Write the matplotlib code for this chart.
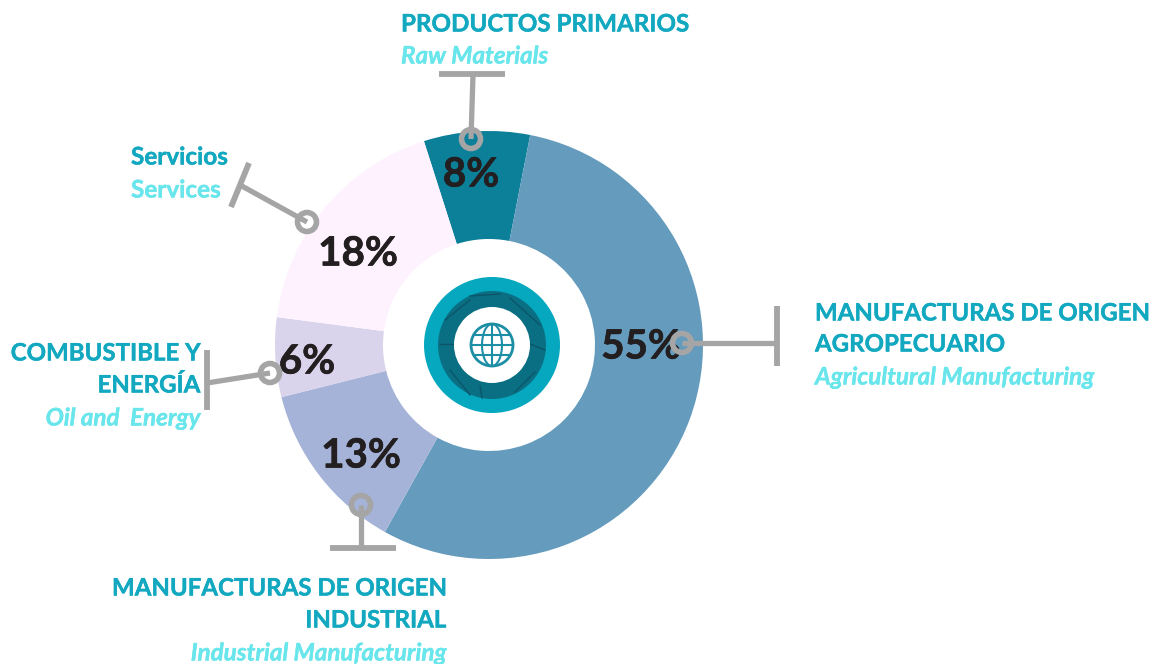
import numpy as np
import matplotlib
matplotlib.use('Agg')
import matplotlib.pyplot as plt
import matplotlib.patheffects as pe
from matplotlib.patches import Circle, Ellipse

W, H = 1169, 664

# datos del grafico
categorias = ['Productos primarios', 'MOA', 'MOI', 'Combustible', 'Servicios']
valores = [8, 55, 13, 6, 18]
etiquetas = ['8%', '55%', '13%', '6%', '18%']
colores = ['#0c7f99', '#659bbc', '#a6b3d8', '#d9d3ec', '#fef2fe']

plt.rcParams['font.family'] = ['Lato', 'Open Sans', 'DejaVu Sans']
GRIS = '#a5a5a5'
TEAL = '#12a8c0'
CLARO = '#68e6ec'
OSCURO = '#231f20'


def yy(p):
    return H - p


fig = plt.figure(figsize=(W / 100, H / 100), dpi=100)
ax = fig.add_axes([0, 0, 1, 1])

cx, cy, R = 489, 345, 214
ax.pie(valores, colors=colores, startangle=107.7, counterclock=False,
       center=(cx, yy(cy)), radius=R, wedgeprops=dict(width=R - 106, linewidth=0))
ax.set_xlim(0, W)
ax.set_ylim(0, H)
ax.set_aspect('equal')
ax.axis('off')

# porcentajes
pos_pct = [(471, 175), (641, 347), (361, 456), (307, 362), (358, 254)]
for t, (x, y) in zip(etiquetas, pos_pct):
    ax.text(x, yy(y), t, fontsize=29, fontweight='bold', color=OSCURO, ha='center', va='center',
            zorder=6, path_effects=[pe.withStroke(linewidth=0.5, foreground=OSCURO)])

# icono central
ix, iy = 492, 345
ax.add_patch(Circle((ix, yy(iy)), 68, fc='#05a8bf', ec='none', zorder=3))
ax.add_patch(Circle((ix, yy(iy)), 54, fc='#0b6f84', ec='none', zorder=3))
ax.add_patch(Circle((ix, yy(iy)), 38, fc='white', ec='none', zorder=4))
ax.add_patch(Circle((ix, yy(iy)), 21, fc='white', ec='#1c8ea5', lw=2, zorder=5))
ax.add_patch(Ellipse((ix, yy(iy)), 20, 42, fc='none', ec='#1c8ea5', lw=1.5, zorder=5))
for dy in [-10, 0, 10]:
    half = np.sqrt(21 ** 2 - dy ** 2)
    ax.plot([ix - half, ix + half], [yy(iy + dy)] * 2, color='#1c8ea5', lw=1.5, zorder=5)
ax.plot([ix, ix], [yy(iy - 21), yy(iy + 21)], color='#1c8ea5', lw=1.5, zorder=5)
# textura del mapa en el anillo oscuro
for x0, y0, x1, y1 in [(445, 320, 470, 300), (510, 298, 540, 325), (450, 370, 470, 395),
                       (515, 392, 535, 372), (480, 386, 482, 398), (440, 344, 455, 344),
                       (530, 344, 545, 350), (470, 296, 500, 294)]:
    ax.plot([x0, x1], [yy(y0), yy(y1)], color='#0a5568', lw=1, zorder=3)

# conectores: linea, barra final y circulo
conectores = [
    ((471, 139), (473, 75), (439, 74), (505, 74)),
    ((682, 343), (777, 343), (777, 306), (777, 366)),
    ((361, 505), (361, 548), (330, 548), (396, 548)),
    ((270, 373), (207, 383), (207, 350), (207, 410)),
    ((307, 222), (240, 185), (249, 163), (231, 207)),
]
for (a, b, c, d) in conectores:
    ax.plot([a[0], b[0]], [yy(a[1]), yy(b[1])], color=GRIS, lw=3.8, zorder=7, solid_capstyle='butt')
    ax.plot([c[0], d[0]], [yy(c[1]), yy(d[1])], color=GRIS, lw=4.2, zorder=7, solid_capstyle='butt')
    ax.add_patch(Circle((a[0], yy(a[1])), 9.5, fc='none', ec=GRIS, lw=4, zorder=8))

# textos
textos = [
    (401, 24, 'PRODUCTOS PRIMARIOS', TEAL, 'left', 'normal', 17.4),
    (401, 56, 'Raw Materials', CLARO, 'left', 'italic', 17.4),
    (131, 157, 'Servicios', TEAL, 'left', 'normal', 17.5),
    (131, 190, 'Services', CLARO, 'left', 'normal', 17.5),
    (815, 313, 'MANUFACTURAS DE ORIGEN', TEAL, 'left', 'normal', 17.3),
    (815, 344, 'AGROPECUARIO', TEAL, 'left', 'normal', 17.3),
    (815, 377, 'Agricultural Manufacturing', CLARO, 'left', 'italic', 17.4),
    (200, 353, 'COMBUSTIBLE Y', TEAL, 'right', 'normal', 17.3),
    (200, 385, 'ENERGÍA', TEAL, 'right', 'normal', 17.3),
    (200, 418, 'Oil and  Energy', CLARO, 'right', 'italic', 17.4),
    (446, 588, 'MANUFACTURAS DE ORIGEN', TEAL, 'right', 'normal', 17.3),
    (446, 620, 'INDUSTRIAL', TEAL, 'right', 'normal', 17.3),
    (446, 653, 'Industrial Manufacturing', CLARO, 'right', 'italic', 17.4),
]
for x, y, s, c, ha, st, fs in textos:
    ax.text(x, yy(y), s, color=c, ha=ha, va='center', fontweight='bold', fontstyle=st, fontsize=fs,
            zorder=9, path_effects=[pe.withStroke(linewidth=0.3, foreground=c)])

fig.savefig('out.png', dpi=100, facecolor='white')
